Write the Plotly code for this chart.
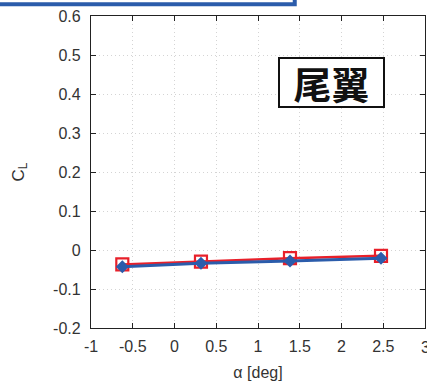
import plotly.graph_objects as go

alpha = [-0.625, 0.317, 1.383, 2.473]
cl_red = [-0.037, -0.030, -0.021, -0.015]
cl_blue = [-0.043, -0.034, -0.028, -0.021]

x_ticks = [-1, -0.5, 0, 0.5, 1, 1.5, 2, 2.5, 3]
y_ticks = [-0.2, -0.1, 0, 0.1, 0.2, 0.3, 0.4, 0.5, 0.6]

fig = go.Figure()
fig.add_trace(go.Scatter(x=alpha, y=cl_red, mode="lines+markers",
                         line=dict(color="#e8202a", width=2.5),
                         marker=dict(symbol="square-open", size=12, color="#e8202a",
                                     line=dict(width=2.2, color="#e8202a")),
                         showlegend=False))
fig.add_trace(go.Scatter(x=alpha, y=cl_blue, mode="lines+markers",
                         line=dict(color="#2b5cab", width=3),
                         marker=dict(symbol="diamond", size=10, color="#2b5cab"),
                         showlegend=False))

FONT = "Liberation Sans, Arial, sans-serif"
axis_common = dict(showline=True, linecolor="#222", linewidth=1.2, mirror="ticks",
                   ticks="inside", ticklen=5, tickcolor="#222",
                   showgrid=True, gridcolor="#d4d4d4", griddash="1px,3px", gridwidth=1,
                   zeroline=False, tickfont=dict(family=FONT, size=16, color="#333"))

fig.update_xaxes(range=[-1, 3], tickvals=x_ticks, ticktext=[str(v) for v in x_ticks],
                 ticklabelstandoff=4,
                 title=dict(text="α [deg]", font=dict(family=FONT, size=16, color="#333"),
                            standoff=13), **axis_common)
fig.update_yaxes(range=[-0.2, 0.6], tickvals=y_ticks, ticktext=[str(v) for v in y_ticks],
                 ticklabelstandoff=6,
                 title=dict(text="C<sub>L</sub>", font=dict(family=FONT, size=17, color="#333"),
                            standoff=24), **axis_common)

# last tick label, cut off by the page edge as in the reference
fig.add_annotation(x=x_ticks[-1], xref="x", y=0, yref="paper", yshift=-9,
                   text=str(x_ticks[-1]), showarrow=False, xanchor="center", yanchor="top",
                   font=dict(family=FONT, size=16, color="#333"))

fig.add_annotation(x=0.719, y=0.788, xref="paper", yref="paper", text="<b>尾翼</b>",
                   xanchor="center", yanchor="middle",
                   showarrow=False, font=dict(family="Noto Sans CJK JP", size=38, color="#111"),
                   width=101, height=45, align="center", valign="middle",
                   bordercolor="#111", borderwidth=2, borderpad=1, bgcolor="white")

# cut-off blue box at top
fig.add_shape(type="rect", xref="paper", yref="paper",
              x0=-0.3, x1=0.61, y0=1.038, y1=1.2,
              line=dict(color="#2b5cab", width=4), fillcolor="rgba(0,0,0,0)")

fig.update_layout(width=427, height=381, margin=dict(l=91, r=2, t=16, b=53),
                  plot_bgcolor="white", paper_bgcolor="white")
fig.write_html("out.html")
